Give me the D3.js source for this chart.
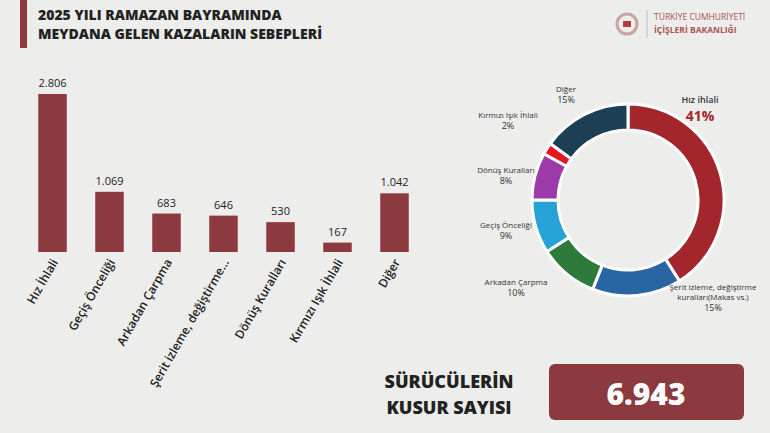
<!DOCTYPE html>
<html><head><meta charset="utf-8">
<script src="https://cdn.jsdelivr.net/npm/d3@7"></script>
<style>body{margin:0;background:#ededeb;font-family:"Open Sans",sans-serif}</style>
</head><body><div id="chart"></div>
<script>
const categories = ['Hız İhlali', 'Geçiş Önceliği', 'Arkadan Çarpma', 'Şerit izleme, değiştirme...', 'Dönüş Kuralları', 'Kırmızı Işık İhlali', 'Diğer'];
const counts = [2806, 1069, 683, 646, 530, 167, 1042];
const pieLabels = ['Hız ihlali', 'Şerit izleme, değiştirme|kuralları(Makas vs.)', 'Arkadan Çarpma', 'Geçiş Önceliği', 'Dönüş Kuralları', 'Kırmızı Işık İhlali', 'Diğer'];
const piePct = [41, 15, 10, 9, 8, 2, 15];
const pieColors = ['#a3262c', '#2a65a3', '#2d7a3a', '#25a3d6', '#9b3aa8', '#e3181f', '#1d3f55'];
const total = '6.943';
const fmt = v => d3.format(',')(v).replace(',', '.');

const W = 770, H = 433;
const svg = d3.select('#chart').append('svg').attr('width', W).attr('height', H);
svg.append('rect').attr('width', W).attr('height', H).attr('fill', '#ededeb');
const red = '#8c3a40';

// header
svg.append('rect').attr('x', 20).attr('y', 0).attr('width', 7).attr('height', 48).attr('fill', red);
svg.append('text').attr('x', 38).attr('y', 20).text('2025 YILI RAMAZAN BAYRAMINDA')
  .attr('font-size', 14).attr('font-weight', 800).attr('fill', '#222');
svg.append('text').attr('x', 38).attr('y', 39).text('MEYDANA GELEN KAZALARIN SEBEPLERİ')
  .attr('font-size', 14).attr('font-weight', 800).attr('fill', '#222');
svg.append('circle').attr('cx', 627).attr('cy', 24).attr('r', 10).attr('fill', 'none').attr('stroke', '#c9a5a5').attr('stroke-width', 3);
svg.append('rect').attr('x', 623).attr('y', 21).attr('width', 8).attr('height', 6).attr('fill', '#b43a40');
svg.append('line').attr('x1', 647).attr('x2', 647).attr('y1', 10).attr('y2', 38).attr('stroke', '#bbb');
svg.append('text').attr('x', 654).attr('y', 20).text('TÜRKİYE CUMHURİYETİ').attr('font-size', 8.5).attr('fill', '#a55');
svg.append('text').attr('x', 654).attr('y', 33).text('İÇİŞLERİ BAKANLIĞI').attr('font-size', 8.5).attr('font-weight', 700).attr('fill', '#a55');

// bars
const x = d3.scaleBand().domain(categories).range([24, 423]).paddingInner(0.5).paddingOuter(0.25);
const y = d3.scaleLinear().domain([0, 2806]).range([252, 94]);
const g = svg.append('g');
g.selectAll('rect').data(counts).join('rect')
  .attr('x', (d, i) => x(categories[i])).attr('width', x.bandwidth())
  .attr('y', d => y(d)).attr('height', d => y(0) - y(d)).attr('fill', red);
g.selectAll('text.v').data(counts).join('text').attr('class', 'v')
  .attr('x', (d, i) => x(categories[i]) + x.bandwidth() / 2).attr('y', d => y(d) - 7)
  .attr('text-anchor', 'middle').attr('font-size', 11).attr('fill', '#222').text(fmt);
g.selectAll('text.c').data(categories).join('text').attr('class', 'c')
  .attr('transform', d => `translate(${x(d) + x.bandwidth() / 2 + 6},262) rotate(-60)`)
  .attr('text-anchor', 'end').attr('font-size', 12).attr('font-weight', 600).attr('fill', '#222').text(d => d);

// donut
const cx = 628, cy = 200;
const pie = d3.pie().sort(null).value(d => d)(piePct);
const arc = d3.arc().innerRadius(70).outerRadius(96);
const dg = svg.append('g').attr('transform', `translate(${cx},${cy})`);
dg.selectAll('path').data(pie).join('path').attr('d', arc)
  .attr('fill', (d, i) => pieColors[i]).attr('stroke', '#fff').attr('stroke-width', 3);
const lab = [[700, 103, 'middle'], [713, 290, 'middle'], [516, 285, 'middle'], [506, 228, 'middle'], [506, 173, 'middle'], [508, 118, 'middle'], [566, 92, 'middle']];
pieLabels.forEach((l, i) => {
  const [lx, ly, anc] = lab[i];
  const lines = l.split('|');
  const t = svg.append('text').attr('x', lx).attr('y', ly).attr('text-anchor', anc).attr('font-size', 8).attr('fill', '#333');
  lines.forEach((s, j) => t.append('tspan').attr('x', lx).attr('dy', j ? 10 : 0).text(s));
  if (i === 0) {
    t.attr('font-size', 9).attr('font-weight', 600);
    svg.append('text').attr('x', 700).attr('y', ly + 18).attr('text-anchor', 'middle').attr('font-size', 14)
      .attr('font-weight', 700).attr('fill', '#a3262c').text(piePct[i] + '%');
  } else {
    svg.append('text').attr('x', lx).attr('y', ly + 10 * lines.length + 1).attr('text-anchor', 'middle')
      .attr('font-size', 9).attr('fill', '#333').text(piePct[i] + '%');
  }
});

// total
svg.append('text').attr('x', 449).attr('y', 388).attr('text-anchor', 'middle').attr('font-size', 18).attr('font-weight', 800).attr('fill', '#222').text('SÜRÜCÜLERİN');
svg.append('text').attr('x', 449).attr('y', 414).attr('text-anchor', 'middle').attr('font-size', 18).attr('font-weight', 800).attr('fill', '#222').text('KUSUR SAYISI');
svg.append('rect').attr('x', 549).attr('y', 364).attr('width', 195).attr('height', 56).attr('rx', 6).attr('fill', red);
svg.append('text').attr('x', 646).attr('y', 405).attr('text-anchor', 'middle').attr('font-size', 30).attr('font-weight', 800).attr('fill', '#fff').text(total);
</script></body></html>
